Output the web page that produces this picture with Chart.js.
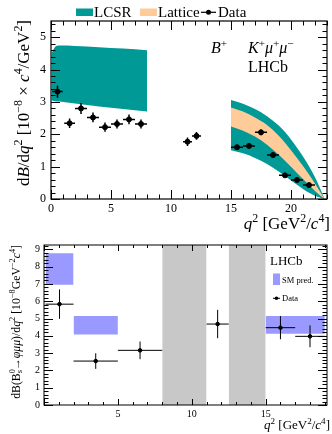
<!DOCTYPE html>
<html>
<head>
<meta charset="utf-8">
<script src="https://cdn.jsdelivr.net/npm/chart.js@4.4.0/dist/chart.umd.min.js"></script>
<style>
html, body { margin: 0; padding: 0; background: #fff; }
#wrap { position: relative; width: 332px; height: 434px; overflow: hidden; }
#topChart { position: absolute; left: 0; top: 0; }
#botChart { position: absolute; left: 0; top: 232px; }
</style>
</head>
<body>
<div id="wrap">
  <canvas id="topChart" width="332" height="232"></canvas>
  <canvas id="botChart" width="332" height="202"></canvas>
</div>
<script>
// ---- top panel: B+ -> K+ mu mu ----
const topBinLo = [0.1, 1.1, 2, 3, 4, 5, 6, 7, 11, 11.75, 15, 16, 17, 18, 19, 20, 21];
const topBinHi = [0.98, 2, 3, 4, 5, 6, 7, 8, 11.75, 12.5, 16, 17, 18, 19, 20, 21, 22];
const topVal = [3.32, 2.34, 2.80, 2.52, 2.22, 2.32, 2.46, 2.32, 1.77, 1.95, 1.60, 1.64, 2.06, 1.36, 0.73, 0.59, 0.43];
const topErr = [0.19, 0.15, 0.17, 0.15, 0.14, 0.14, 0.15, 0.14, 0.13, 0.12, 0.08, 0.08, 0.09, 0.07, 0.05, 0.04, 0.04];

// LCSR band at low q2
const lowQ2 = [0.05, 0.3, 0.7, 2, 4, 6, 8];
const lcsrLowUp = [4.50, 4.68, 4.74, 4.73, 4.69, 4.65, 4.60];
const lcsrLowDn = [3.04, 3.02, 3.01, 2.95, 2.86, 2.78, 2.70];

// LCSR + lattice bands at high q2
const highQ2 = [15, 16, 17, 18, 19, 20, 21, 22, 22.8];
const lcsrHighUp = [3.06, 2.94, 2.78, 2.56, 2.26, 1.84, 1.31, 0.67, 0.0];
const lattUp = [2.83, 2.70, 2.52, 2.29, 1.95, 1.51, 1.02, 0.48, 0.0];
const lattDn = [2.24, 2.11, 1.93, 1.68, 1.36, 1.00, 0.62, 0.25, 0.0];
const lcsrHighDn = [1.51, 1.41, 1.27, 1.08, 0.84, 0.57, 0.31, 0.10, 0.0];

const topXTicks = [0, 5, 10, 15, 20];
const topYTicks = [0, 1, 2, 3, 4, 5];

// ---- bottom panel: Bs -> phi mu mu ----
const botBinLo = [0.1, 2, 5, 11, 15, 17];
const botBinHi = [2, 5, 8, 12.5, 17, 19];
const botX = [1.05, 3.5, 6.5, 11.75, 16, 18];
const botVal = [5.83, 2.54, 3.16, 4.68, 4.47, 3.97];
const botErr = [0.85, 0.45, 0.51, 0.82, 0.67, 0.63];

const smLo = [0.1, 2, 15];
const smHi = [2, 5, 19];
const smMin = [6.95, 4.07, 4.12];
const smMax = [8.78, 5.15, 5.15];

const vetoLo = [8, 12.5];
const vetoHi = [11, 15];

const botXTicks = [5, 10, 15];
const botYTicks = [0, 1, 2, 3, 4, 5, 6, 7, 8, 9];

const TEAL = 'rgb(0,153,150)';
const PEACH = 'rgb(255,204,153)';
const SMBLUE = 'rgb(153,153,255)';
const GREY = 'rgb(200,200,200)';
const FAM = '"Liberation Serif", "DejaVu Serif", serif';

// text with italic / super / subscript parts
function rich(ctx, parts, x, y, size, align, rot) {
    const items = [];
    let w = 0;
    for (const p of parts) {
        const fl = p[1] || '';
        const small = fl.includes('^') || fl.includes('_');
        const s = small ? size * 0.7 : size;
        const font = (fl.includes('i') ? 'italic ' : '') + s + 'px ' + FAM;
        ctx.font = font;
        const pw = ctx.measureText(p[0]).width;
        const dy = fl.includes('^') ? -size * 0.4 : (fl.includes('_') ? size * 0.2 : 0);
        items.push({ t: p[0], font, x: w, dy });
        if (!fl.includes('|')) w += pw;
    }
    ctx.save();
    ctx.translate(x, y);
    if (rot) ctx.rotate(rot);
    const off = align === 'right' ? -w : (align === 'center' ? -w / 2 : 0);
    ctx.fillStyle = '#000';
    ctx.textBaseline = 'alphabetic';
    ctx.textAlign = 'left';
    for (const it of items) {
        ctx.font = it.font;
        ctx.fillText(it.t, off + it.x, it.dy);
    }
    ctx.restore();
}

// frame and ROOT style inside ticks
function drawFrame(chart, o) {
    const { ctx, chartArea: a } = chart;
    const xs = chart.scales.x, ys = chart.scales.y;
    ctx.save();
    ctx.strokeStyle = '#000';
    ctx.lineWidth = o.lw;
    ctx.strokeRect(a.left, a.top, a.right - a.left, a.bottom - a.top);
    ctx.beginPath();
    const n0 = Math.ceil(xs.min / o.xMinor - 1e-6), n1 = Math.floor(xs.max / o.xMinor + 1e-6);
    for (let n = n0; n <= n1; n++) {
        const v = n * o.xMinor;
        const major = Math.abs(v / o.xMajor - Math.round(v / o.xMajor)) < 1e-6;
        const len = major ? o.xLen : o.xLen / 2;
        const px = Math.round(xs.getPixelForValue(v)) + 0.5;
        ctx.moveTo(px, a.bottom); ctx.lineTo(px, a.bottom - len);
        ctx.moveTo(px, a.top); ctx.lineTo(px, a.top + len);
    }
    const m0 = Math.ceil(ys.min / o.yMinor - 1e-6), m1 = Math.floor(ys.max / o.yMinor + 1e-6);
    for (let n = m0; n <= m1; n++) {
        const v = n * o.yMinor;
        const major = Math.abs(v / o.yMajor - Math.round(v / o.yMajor)) < 1e-6;
        const len = major ? o.yLen : o.yLen / 2;
        const py = Math.round(ys.getPixelForValue(v)) + 0.5;
        ctx.moveTo(a.left, py); ctx.lineTo(a.left + len, py);
        ctx.moveTo(a.right, py); ctx.lineTo(a.right - len, py);
    }
    ctx.lineWidth = 1;
    ctx.stroke();
    ctx.restore();
}

function drawErrors(chart, lo, hi, val, err, lw) {
    const { ctx } = chart;
    const xs = chart.scales.x, ys = chart.scales.y;
    ctx.save();
    ctx.strokeStyle = '#000';
    ctx.lineWidth = lw;
    ctx.beginPath();
    for (let i = 0; i < val.length; i++) {
        const yc = ys.getPixelForValue(val[i]);
        const xc = xs.getPixelForValue((lo[i] + hi[i]) / 2);
        ctx.moveTo(xs.getPixelForValue(lo[i]), yc);
        ctx.lineTo(xs.getPixelForValue(hi[i]), yc);
        ctx.moveTo(xc, ys.getPixelForValue(val[i] + err[i]));
        ctx.lineTo(xc, ys.getPixelForValue(val[i] - err[i]));
    }
    ctx.stroke();
    ctx.restore();
}

function pts(xs, ys) {
    return xs.map((x, i) => ({ x: x, y: ys[i] }));
}

function band(xs, ys, fill, color) {
    return {
        data: pts(xs, ys), fill: fill, backgroundColor: color,
        borderColor: 'rgba(0,0,0,0)', borderWidth: 0, pointRadius: 0,
        tension: 0.4, cubicInterpolationMode: 'monotone'
    };
}

function axis(min, max, ticks, size, pad, fitSize, isX) {
    return {
        type: 'linear', min: min, max: max,
        grid: { display: false, drawTicks: false },
        border: { display: false },
        ticks: { font: { family: FAM, size: size }, color: '#000', padding: pad, maxRotation: 0, autoSkip: false },
        afterBuildTicks: s => { s.ticks = ticks.map(v => ({ value: v })); },
        afterFit: s => { if (isX) s.height = fitSize; else s.width = fitSize; }
    };
}

// ---------- top chart ----------
const topPlugin = {
    id: 'topExtras',
    afterDatasetsDraw(chart) {
        drawErrors(chart, topBinLo, topBinHi, topVal, topErr, 1.5);
        drawFrame(chart, { lw: 1.2, xMinor: 1, xMajor: 5, xLen: 9, yMinor: 0.2, yMajor: 1, yLen: 9 });
    },
    afterDraw(chart) {
        const ctx = chart.ctx;
        // legend
        ctx.fillStyle = TEAL; ctx.fillRect(76, 8.5, 17, 7.5);
        ctx.fillStyle = PEACH; ctx.fillRect(140, 8.5, 17, 7.5);
        rich(ctx, [['LCSR']], 94, 16.5, 15, 'left');
        rich(ctx, [['Lattice']], 158, 16.5, 15, 'left');
        ctx.strokeStyle = '#000'; ctx.lineWidth = 1.2;
        ctx.beginPath(); ctx.moveTo(201, 12.3); ctx.lineTo(216, 12.3); ctx.stroke();
        ctx.fillStyle = '#000';
        ctx.beginPath(); ctx.arc(208.5, 12.3, 2.5, 0, Math.PI * 2); ctx.fill();
        rich(ctx, [['Data']], 218, 16.5, 15, 'left');
        // labels
        rich(ctx, [['B', 'i'], ['+', '^']], 211, 53, 16, 'left');
        rich(ctx, [['K', 'i'], ['+', '^'], ['μ', 'i'], ['+', '^'], ['μ', 'i'], ['−', '^']], 248, 53, 16, 'left');
        rich(ctx, [['LHCb']], 288, 72, 16, 'right');
        // axis titles
        rich(ctx, [['q', 'i'], ['2', '^'], [' [GeV'], ['2', '^'], ['/'], ['c', 'i'], ['4', '^'], [']']], 330, 229, 17, 'right');
        rich(ctx, [['d'], ['B', 'i'], ['/d'], ['q', 'i'], ['2', '^'], [' [10'], ['−8', '^'], [' × '], ['c', 'i'], ['4', '^'], ['/GeV'], ['2', '^'], [']']],
            29, 20, 17, 'right', -Math.PI / 2);
    }
};

new Chart(document.getElementById('topChart'), {
    type: 'line',
    data: {
        datasets: [
            { type: 'scatter', data: pts(topBinLo.map((l, i) => (l + topBinHi[i]) / 2), topVal),
              pointRadius: 2.5, pointBackgroundColor: '#000', pointBorderColor: '#000', showLine: false },
            band(highQ2, lattUp, '+1', PEACH),
            band(highQ2, lattDn, false, PEACH),
            band(highQ2, lcsrHighUp, '+1', TEAL),
            band(highQ2, lcsrHighDn, false, TEAL),
            band(lowQ2, lcsrLowUp, '+1', TEAL),
            band(lowQ2, lcsrLowDn, false, TEAL)
        ]
    },
    options: {
        responsive: false, animation: false,
        layout: { padding: { top: 21, right: 2.5, left: 0, bottom: 0 } },
        plugins: { legend: { display: false }, tooltip: { enabled: false } },
        scales: {
            x: axis(0, 23, topXTicks, 12, 3, 33, true),
            y: axis(0, 5.5, topYTicks, 12, 5, 51, false)
        }
    },
    plugins: [topPlugin]
});

// ---------- bottom chart ----------
const botPlugin = {
    id: 'botExtras',
    afterDatasetsDraw(chart) {
        drawErrors(chart, botBinLo, botBinHi, botVal, botErr, 1);
        drawFrame(chart, { lw: 1, xMinor: 1, xMajor: 5, xLen: 6, yMinor: 0.2, yMajor: 1, yLen: 9 });
    },
    afterDraw(chart) {
        const ctx = chart.ctx;
        rich(ctx, [['LHCb']], 270, 33, 13, 'left');
        ctx.fillStyle = SMBLUE; ctx.fillRect(273, 41.5, 7, 11.5);
        rich(ctx, [['SM pred.']], 282, 51, 8.5, 'left');
        ctx.strokeStyle = '#000'; ctx.lineWidth = 1;
        ctx.beginPath(); ctx.moveTo(273, 66.3); ctx.lineTo(280, 66.3); ctx.stroke();
        ctx.fillStyle = '#000';
        ctx.beginPath(); ctx.arc(276.5, 66.3, 1.8, 0, Math.PI * 2); ctx.fill();
        rich(ctx, [['Data']], 282, 69, 8.5, 'left');
        rich(ctx, [['q', 'i'], ['2', '^'], [' [GeV'], ['2', '^'], ['/'], ['c', 'i'], ['4', '^'], [']']], 330, 197, 13, 'right');
        rich(ctx, [['dB(B'], ['0', '^|'], ['s', '_'], ['→'], ['φμμ', 'i'], [')/d'], ['q', 'i'], ['2', '^'], [' [10'], ['−8', '^'], ['GeV'], ['−2', '^'], ['c', 'i'], ['4', '^'], [']']],
            20, 13, 11.8, 'right', -Math.PI / 2);
    }
};

const smSets = smLo.map((lo, i) => ({
    data: [{ x: lo, y: smMax[i] }, { x: smHi[i], y: smMax[i] }],
    fill: { value: smMin[i] }, backgroundColor: SMBLUE,
    borderColor: 'rgba(0,0,0,0)', borderWidth: 0, pointRadius: 0, tension: 0
}));
const vetoSets = vetoLo.map((lo, i) => ({
    data: [{ x: lo, y: 9.25 }, { x: vetoHi[i], y: 9.25 }],
    fill: 'origin', backgroundColor: GREY,
    borderColor: 'rgba(0,0,0,0)', borderWidth: 0, pointRadius: 0, tension: 0
}));

new Chart(document.getElementById('botChart'), {
    type: 'line',
    data: {
        datasets: [
            { type: 'scatter', data: pts(botX, botVal),
              pointRadius: 1.8, pointBackgroundColor: '#000', pointBorderColor: '#000', showLine: false }
        ].concat(smSets, vetoSets)
    },
    options: {
        responsive: false, animation: false,
        layout: { padding: { top: 13, right: 3, left: 0, bottom: 0 } },
        plugins: { legend: { display: false }, tooltip: { enabled: false } },
        scales: {
            x: axis(0, 19.15, botXTicks, 10, 3, 29, true),
            y: axis(0, 9.25, botYTicks, 10, 4, 44, false)
        }
    },
    plugins: [botPlugin]
});
</script>
</body>
</html>
